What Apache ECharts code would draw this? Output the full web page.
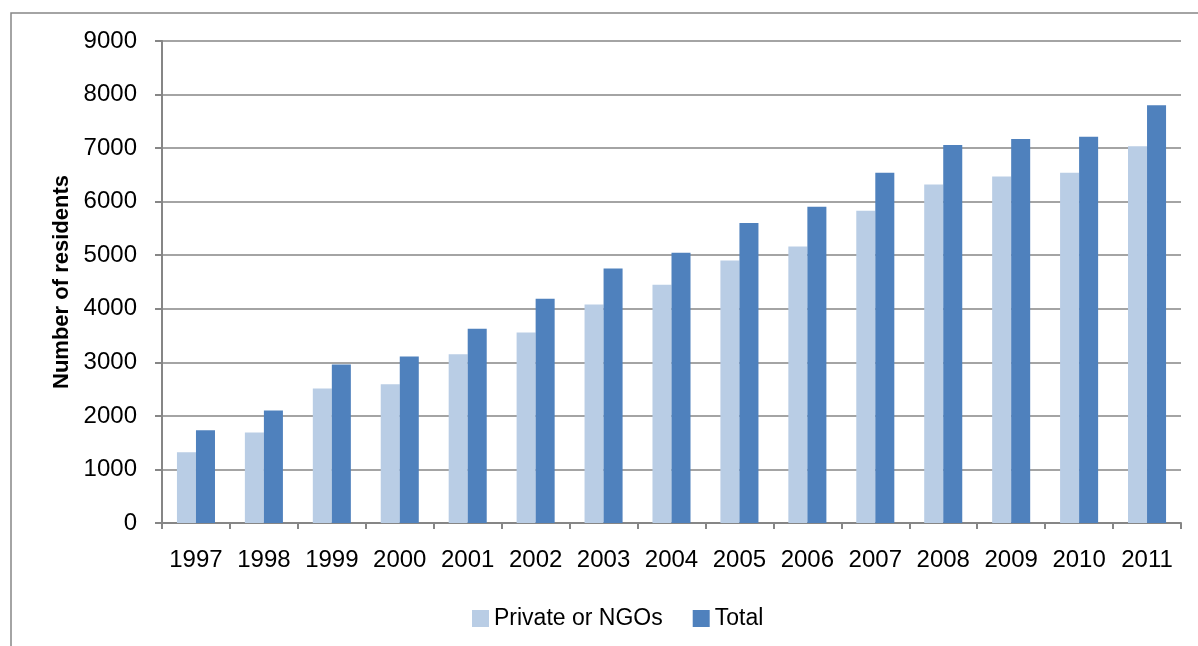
<!DOCTYPE html>
<html>
<head>
<meta charset="utf-8">
<script src="https://cdn.jsdelivr.net/npm/echarts@6/dist/echarts.min.js"></script>
<style>html,body{margin:0;padding:0;background:#fff;}#c{width:1198px;height:646px;}</style>
</head>
<body>
<div id="c"></div>
<script>
const years = ['1997','1998','1999','2000','2001','2002','2003','2004','2005','2006','2007','2008','2009','2010','2011'];
const privateNGOs = [1320,1690,2510,2590,3150,3555,4080,4450,4900,5165,5830,6320,6470,6540,7035];
const total = [1730,2100,2960,3110,3625,4185,4750,5045,5600,5905,6540,7060,7170,7210,7800];
const seriesNames = ['Private or NGOs','Total'];
const yTitle = 'Number of residents';

const FONT = "'Liberation Sans', Arial, sans-serif";
const GRAY = '#868686';
const chart = echarts.init(document.getElementById('c'), null, {renderer:'canvas'});
chart.setOption({
  animation: false,
  backgroundColor: '#fff',
  graphic: [{
    type: 'rect', silent: true, z: -1,
    shape: {x: 11, y: 13, width: 1400, height: 800},
    style: {fill: 'none', stroke: GRAY, lineWidth: 1.5}
  }],
  grid: {left: 162, right: 17, top: 41, bottom: 123, containLabel: false},
  legend: {
    left: 467, top: 602,
    itemWidth: 17, itemHeight: 17, itemGap: 30,
    icon: 'rect',
    textStyle: {fontFamily: FONT, fontSize: 23, color: '#000'},
    data: seriesNames
  },
  xAxis: {
    type: 'category', data: years, boundaryGap: true,
    axisLine: {lineStyle: {color: GRAY, width: 2}},
    axisTick: {show: true, length: 6, lineStyle: {color: GRAY, width: 2}, alignWithLabel: false},
    axisLabel: {fontFamily: FONT, fontSize: 24, color: '#000', margin: 25, interval: 0}
  },
  yAxis: {
    type: 'value', min: 0, max: 9000, interval: 1000,
    name: yTitle, nameLocation: 'middle', nameRotate: 90, nameGap: 77,
    nameTextStyle: {fontFamily: FONT, fontSize: 22, fontWeight: 'bold', color: '#000'},
    axisLine: {show: true, lineStyle: {color: GRAY, width: 2}},
    axisTick: {show: true, length: 7, lineStyle: {color: GRAY, width: 2}},
    axisLabel: {fontFamily: FONT, fontSize: 24, color: '#000', margin: 25, formatter: v => String(v)},
    splitLine: {show: true, lineStyle: {color: GRAY, width: 1.5}}
  },
  series: [
    {name: seriesNames[0], type: 'bar', data: privateNGOs, barGap: '0%', barCategoryGap: '44%',
     itemStyle: {color: '#B9CDE5'}},
    {name: seriesNames[1], type: 'bar', data: total, barGap: '0%', barCategoryGap: '44%',
     itemStyle: {color: '#4F81BD'}}
  ]
});
</script>
</body>
</html>
